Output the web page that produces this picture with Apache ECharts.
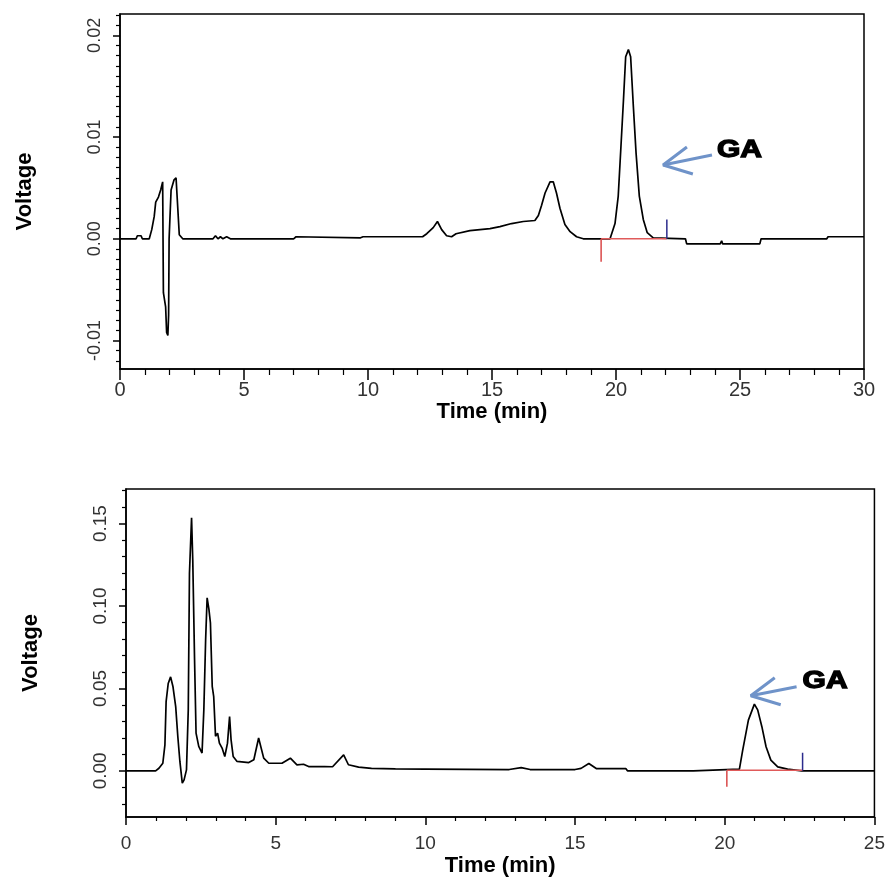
<!DOCTYPE html>
<html>
<head>
<meta charset="utf-8">
<script src="https://cdn.jsdelivr.net/npm/echarts@6/dist/echarts.min.js"></script>
<style>
html,body{margin:0;padding:0;background:#fff;}
#chart{width:888px;height:890px;}
</style>
</head>
<body>
<div id="chart"></div>
<script>
// ---------- DATA ----------
// Top chromatogram (standard)
const topTime = [0,0.65,0.7,0.85,0.9,1.18,1.28,1.38,1.44,1.55,1.64,1.72,1.75,1.84,1.88,1.93,1.96,1.98,2.06,2.18,2.26,2.33,2.39,2.53,3.75,3.85,3.95,4.05,4.15,4.3,4.45,7.0,7.1,9.7,9.8,12.2,12.37,12.63,12.8,12.97,13.17,13.37,13.55,14.11,14.92,15.32,15.79,16.26,16.73,16.87,17.0,17.14,17.34,17.47,17.6,17.74,17.94,18.15,18.41,18.68,19.76,19.96,20.09,20.2,20.3,20.39,20.5,20.59,20.7,20.81,20.94,21.1,21.26,21.5,22.8,22.85,24.2,24.26,24.3,25.8,25.85,28.5,28.55,30];
const topVolt = [0,0,0.0003,0.0003,0,0,0.0009,0.0022,0.0036,0.0041,0.0048,0.0056,-0.0053,-0.0067,-0.0092,-0.0095,-0.0075,0.0,0.0048,0.0058,0.006,0.003,0.0004,0,0,0.0003,0,0.0002,0,0.0002,0,0,0.0002,0.0001,0.0002,0.0002,0.0005,0.0011,0.0017,0.0009,0.0003,0.0002,0.0005,0.0008,0.001,0.0012,0.0015,0.0017,0.0018,0.0023,0.0033,0.0045,0.0056,0.0056,0.0045,0.003,0.0014,0.0007,0.0002,0,0,0.0015,0.0042,0.0091,0.0136,0.0179,0.0186,0.0179,0.013,0.0084,0.0042,0.0019,0.0006,0.0001,0,-0.0005,-0.0005,-0.0002,-0.0005,-0.0005,0,0,0.0002,0.0002];

// Bottom chromatogram (sample)
const botTime = [0,0.99,1.1,1.23,1.3,1.34,1.41,1.49,1.57,1.66,1.73,1.8,1.88,1.94,2.02,2.08,2.12,2.19,2.23,2.29,2.34,2.43,2.54,2.6,2.66,2.71,2.77,2.82,2.88,2.93,2.99,3.06,3.12,3.21,3.3,3.39,3.46,3.51,3.58,3.71,4.1,4.27,4.43,4.6,4.77,5.21,5.49,5.71,5.93,6.1,6.63,6.9,7.27,7.43,7.77,8.2,9,10,12.8,13.2,13.5,15.0,15.2,15.46,15.72,16.7,16.75,18.95,19.0,20.49,20.6,20.79,20.99,21.1,21.24,21.38,21.54,21.77,22.1,22.57,25];
const botVolt = [0,0,0.0016,0.0046,0.0158,0.042,0.053,0.057,0.051,0.039,0.021,0.0057,-0.0075,-0.0055,0.0006,0.037,0.12,0.1535,0.128,0.0675,0.0229,0.0148,0.0108,0.037,0.0796,0.105,0.098,0.0898,0.0513,0.045,0.021,0.0229,0.0168,0.0138,0.0087,0.0168,0.033,0.0188,0.0087,0.0057,0.005,0.0067,0.0199,0.0077,0.0046,0.0046,0.0077,0.0036,0.004,0.0026,0.0026,0.0025,0.0097,0.0037,0.0023,0.0015,0.0012,0.0011,0.0008,0.002,0.0008,0.0008,0.0015,0.0045,0.0013,0.0013,0,0,0.001,0.001,0.0126,0.0308,0.0405,0.037,0.0268,0.0146,0.0065,0.0024,0.001,0,0];

// Tick labels
const topXTicks = [0,5,10,15,20,25,30];
const topYTicks = [-0.01,0,0.01,0.02];
const botXTicks = [0,5,10,15,20,25];
const botYTicks = [0,0.05,0.1,0.15];

// Integration markers (time, voltage)
const topStartMark = [[19.4,0],[19.4,-0.00225]];
const topBaseMark  = [[19.4,0],[22.05,0]];
const topEndMark   = [[22.05,0],[22.05,0.0019]];
const botStartMark = [[20.07,0],[20.07,-0.0097]];
const botBaseMark  = [[20.07,0.0003],[22.6,0.0003]];
const botEndMark   = [[22.6,0],[22.6,0.011]];

// GA annotations (arrow shaft, arrow head, label anchor)
const topArrowShaft = [[23.87,0.00824],[21.9,0.00725]];
const topArrowHead  = [[22.86,0.00902],[21.9,0.00725],[23.1,0.00637]];
const topGALabel    = [[24.07,0.00873]];
const botArrowShaft = [[22.4,0.051],[20.87,0.0456]];
const botArrowHead  = [[21.67,0.0565],[20.87,0.0456],[21.87,0.0401]];
const botGALabel    = [[22.6,0.0541]];

// ---------- HELPERS ----------
function zip(a,b){return a.map((v,i)=>[v,b[i]]);}
function steps(lo,hi,st,skip){
  const out=[];
  const n=Math.round((hi-lo)/st);
  for(let i=0;i<=n;i++){
    const v=Math.round((lo+i*st)*1e6)/1e6;
    if(!skip.some(s=>Math.abs(s-v)<1e-9)) out.push(v);
  }
  return out;
}
const FONT='"Liberation Sans", Arial, sans-serif';
const tickFmt2 = v => v.toFixed(2);

const chart = echarts.init(document.getElementById('chart'), null, {renderer:'canvas'});

function mainX(grid,min,max,ticks,tickLen,labelSize,margin,nameGap){
  return {
    type:'value', gridIndex:grid, min:min, max:max, position:'bottom',
    axisLine:{show:true,onZero:false,lineStyle:{color:'#000',width:1.5}},
    axisTick:{show:true,customValues:ticks,length:tickLen,lineStyle:{color:'#000',width:1.5}},
    axisLabel:{show:true,customValues:ticks,color:'#333',fontSize:labelSize,fontFamily:FONT,margin:margin,
      formatter:v=>String(v)},
    splitLine:{show:false},
    name:'Time (min)', nameLocation:'middle', nameGap:nameGap,
    nameTextStyle:{color:'#000',fontSize:22,fontWeight:'bold',fontFamily:FONT}
  };
}
function minorX(grid,min,max,ticks,tickLen){
  return {
    type:'value', gridIndex:grid, min:min, max:max, position:'bottom',
    axisLine:{show:false,onZero:false},
    axisTick:{show:true,customValues:ticks,length:tickLen,lineStyle:{color:'#000',width:1.2}},
    axisLabel:{show:false}, splitLine:{show:false}
  };
}
function mainY(grid,min,max,ticks,tickLen,labelSize,margin,nameGap){
  return {
    type:'value', gridIndex:grid, min:min, max:max, position:'left',
    axisLine:{show:true,onZero:false,lineStyle:{color:'#000',width:1.5}},
    axisTick:{show:true,customValues:ticks,length:tickLen,lineStyle:{color:'#000',width:1.5}},
    axisLabel:{show:true,customValues:ticks,rotate:90,color:'#333',fontSize:labelSize,fontFamily:FONT,margin:margin,
      formatter:tickFmt2},
    splitLine:{show:false},
    name:'Voltage', nameLocation:'middle', nameGap:nameGap, nameRotate:90,
    nameTextStyle:{color:'#000',fontSize:22,fontWeight:'bold',fontFamily:FONT}
  };
}
function minorY(grid,min,max,ticks,tickLen){
  return {
    type:'value', gridIndex:grid, min:min, max:max, position:'left', offset:0,
    axisLine:{show:false,onZero:false},
    axisTick:{show:true,customValues:ticks,length:tickLen,lineStyle:{color:'#000',width:1.2}},
    axisLabel:{show:false}, splitLine:{show:false}
  };
}

const topYMin=-0.0128, topYMax=0.0221;
const botYMin=-0.028, botYMax=0.171;

function lineS(data,xi,yi,color,width,z){
  return {type:'line',xAxisIndex:xi,yAxisIndex:yi,data:data,symbol:'none',silent:true,
    lineStyle:{color:color,width:width},z:z||2,animation:false};
}
function gaLabel(data,xi,yi){
  return {type:'custom',xAxisIndex:xi,yAxisIndex:yi,data:data,silent:true,z:5,animation:false,
    renderItem:function(params,api){
      const p=api.coord([api.value(0),api.value(1)]);
      return {type:'text',x:p[0],y:p[1],scaleX:1.25,
        style:{text:'GA',fill:'#000',stroke:'#000',lineWidth:1.3,fontSize:24,fontWeight:'bold',fontFamily:FONT,
          align:'left',verticalAlign:'middle'}};
    }};
}

const ARROW='#6f93c9';
const option = {
  backgroundColor:'#fff',
  animation:false,
  grid:[
    {left:120,right:24,top:14,height:355,show:true,borderColor:'#000',borderWidth:1.5,backgroundColor:'transparent'},
    {left:126,right:12,top:489,height:328,show:true,borderColor:'#000',borderWidth:1.5,backgroundColor:'transparent'}
  ],
  xAxis:[
    mainX(0,0,30,topXTicks,11,20,11,30),
    minorX(0,0,30,steps(0,30,1,topXTicks),6),
    mainX(1,0,25,botXTicks,8,19,17,38),
    minorX(1,0,25,steps(0,25,1,botXTicks),4)
  ],
  yAxis:[
    mainY(0,topYMin,topYMax,topYTicks,7,18,16,84),
    minorY(0,topYMin,topYMax,steps(-0.012,0.022,0.001,topYTicks),4),
    mainY(1,botYMin,botYMax,botYTicks,7,19,16,84),
    minorY(1,botYMin,botYMax,steps(-0.02,0.17,0.01,botYTicks),4)
  ],
  series:[
    lineS(zip(topTime,topVolt),0,0,'#000',1.7,2),
    lineS(topBaseMark,0,0,'#e05a5a',1.5,3),
    lineS(topStartMark,0,0,'#d94848',1.5,3),
    lineS(topEndMark,0,0,'#2b2b8c',1.5,3),
    lineS(topArrowShaft,0,0,ARROW,3,4),
    lineS(topArrowHead,0,0,ARROW,3,4),
    gaLabel(topGALabel,0,0),
    lineS(zip(botTime,botVolt),2,2,'#000',1.7,2),
    lineS(botBaseMark,2,2,'#e05a5a',1.5,3),
    lineS(botStartMark,2,2,'#d94848',1.5,3),
    lineS(botEndMark,2,2,'#2b2b8c',1.5,3),
    lineS(botArrowShaft,2,2,ARROW,3,4),
    lineS(botArrowHead,2,2,ARROW,3,4),
    gaLabel(botGALabel,2,2)
  ]
};
chart.setOption(option);
</script>
</body>
</html>
